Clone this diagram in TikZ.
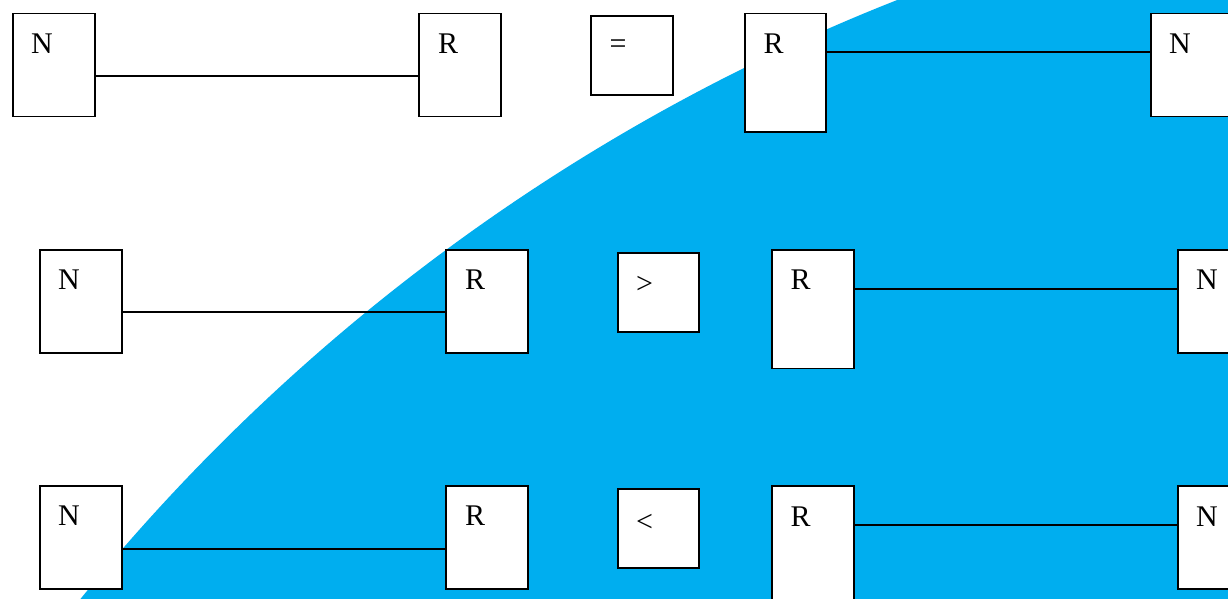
\documentclass[tikz,border=0pt]{standalone}
\usepackage{fontspec}
\setmainfont{Liberation Serif}
\definecolor{skyblue}{RGB}{0,174,239}
\tikzset{
  box/.style={draw, line width=1.8pt, fill=white, inner sep=0pt, anchor=north west,
              minimum width=82pt, minimum height=103pt},
  tallbox/.style={box, minimum height=118.5pt},
  opbox/.style={box, minimum width=81pt, minimum height=79pt},
  lbl/.style={inner sep=0pt, anchor=center, font=\fontsize{30}{30}\selectfont},
  link/.style={line width=1.8pt}
}
\begin{document}
\begin{tikzpicture}[x=1pt,y=-1pt]
\clip (0,0) rectangle (1228,599);
\fill[white] (0,0) rectangle (1228,599);
\fill[skyblue] (1627,1853) circle[radius=1991];
% row 1
\node[box] (N1) at (12,12.7) {};
\node[box] (R1) at (418,12.7) {};
\node[opbox, minimum width=82pt, minimum height=79.3pt] (EQ) at (590,15) {};
\node[tallbox, minimum width=81pt] (R1b) at (744,12.7) {};
\node[box] (N1b) at (1150,12.7) {};
% row 2
\node[box] (N2) at (39,249) {};
\node[box] (R2) at (445,249) {};
\node[opbox] (GT) at (617,251.7) {};
\node[tallbox] (R2b) at (771,249) {};
\node[box] (N2b) at (1177,249) {};
% row 3
\node[box] (N3) at (39,485) {};
\node[box] (R3) at (445,485) {};
\node[opbox] (LT) at (617,487.7) {};
\node[tallbox] (R3b) at (771,485.3) {};
\node[box] (N3b) at (1177,485.3) {};
% connectors
\draw[link] ([yshift=-63.3pt]N1.north east) -- ([yshift=-63.3pt]R1.north west);
\draw[link] ([yshift=-39pt]R1b.north east) -- ([yshift=-39pt]N1b.north west);
\draw[link] ([yshift=-62.7pt]N2.north east) -- ([yshift=-62.7pt]R2.north west);
\draw[link] ([yshift=-40pt]R2b.north east) -- ([yshift=-40pt]N2b.north west);
\draw[link] ([yshift=-64pt]N3.north east) -- ([yshift=-64pt]R3.north west);
\draw[link] ([yshift=-39.4pt]R3b.north east) -- ([yshift=-39.4pt]N3b.north west);
% labels
\node[lbl] (tN1) at ([xshift=30pt,yshift=-31pt]N1.north west) {N};
\node[lbl] (tR1) at ([xshift=30pt,yshift=-31pt]R1.north west) {R};
\node[lbl] (tEQ) at ([xshift=28pt,yshift=-32pt]EQ.north west) {=};
\node[lbl] (tR1b) at ([xshift=29.5pt,yshift=-31pt]R1b.north west) {R};
\node[lbl] (tN1b) at ([xshift=30pt,yshift=-31pt]N1b.north west) {N};
\node[lbl] (tN2) at ([xshift=30pt,yshift=-31pt]N2.north west) {N};
\node[lbl] (tR2) at ([xshift=30pt,yshift=-31pt]R2.north west) {R};
\node[lbl] (tGT) at ([xshift=27.5pt,yshift=-33pt]GT.north west) {>};
\node[lbl] (tR2b) at ([xshift=29.5pt,yshift=-31pt]R2b.north west) {R};
\node[lbl] (tN2b) at ([xshift=30pt,yshift=-31pt]N2b.north west) {N};
\node[lbl] (tN3) at ([xshift=30pt,yshift=-31pt]N3.north west) {N};
\node[lbl] (tR3) at ([xshift=30pt,yshift=-31pt]R3.north west) {R};
\node[lbl] (tLT) at ([xshift=27.5pt,yshift=-35pt]LT.north west) {<};
\node[lbl] (tR3b) at ([xshift=29.5pt,yshift=-31pt]R3b.north west) {R};
\node[lbl] (tN3b) at ([xshift=30pt,yshift=-31pt]N3b.north west) {N};
\end{tikzpicture}
\end{document}
